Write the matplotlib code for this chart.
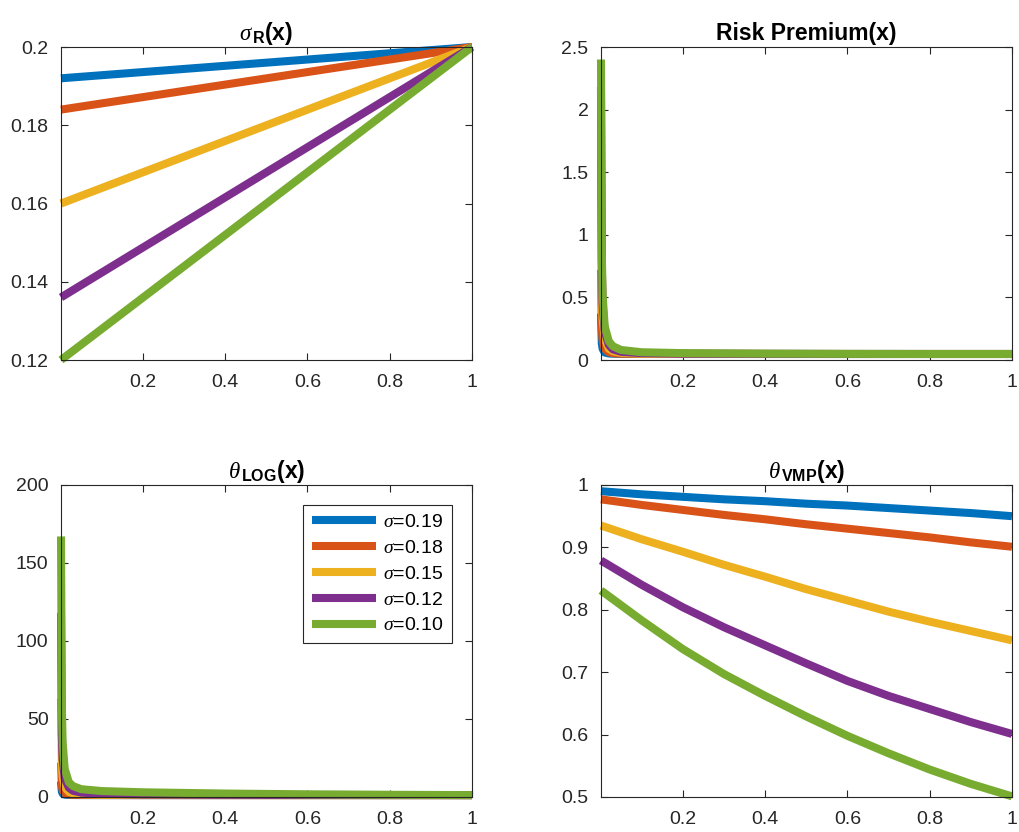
import numpy as np
import matplotlib
matplotlib.use('Agg')
import matplotlib.pyplot as plt

plt.rcParams['font.family'] = ['Liberation Sans', 'DejaVu Sans']
plt.rcParams['mathtext.fontset'] = 'custom'
plt.rcParams['mathtext.rm'] = 'Liberation Sans'
plt.rcParams['mathtext.it'] = 'Liberation Serif:italic'
plt.rcParams['mathtext.bf'] = 'Liberation Sans:bold'

# data
sigmas = ['0.19', '0.18', '0.15', '0.12', '0.10']
colors = ['#0072BD', '#D95319', '#EDB120', '#7E2F8E', '#77AC30']

# sigma_R(x): straight lines, start and end values
x_sr = [0.001, 1.0]
sr_blue = [0.192, 0.200]
sr_red = [0.184, 0.200]
sr_yellow = [0.160, 0.200]
sr_purple = [0.136, 0.200]
sr_green = [0.120, 0.200]

# spike curves (risk premium and theta_LOG) share the same x grid
x_sp = [0.001, 0.003, 0.005, 0.01, 0.02, 0.03, 0.05, 0.1, 0.2, 0.4, 0.6, 0.8, 1.0]
rp_blue = [0.37, 0.13, 0.09, 0.06, 0.052, 0.05, 0.049, 0.048, 0.048, 0.048, 0.048, 0.048, 0.048]
rp_red = [0.72, 0.25, 0.16, 0.09, 0.062, 0.055, 0.05, 0.049, 0.048, 0.048, 0.048, 0.048, 0.048]
rp_yellow = [1.6, 0.55, 0.33, 0.17, 0.09, 0.07, 0.057, 0.051, 0.049, 0.048, 0.048, 0.048, 0.048]
rp_purple = [2.18, 0.75, 0.45, 0.23, 0.12, 0.085, 0.065, 0.055, 0.05, 0.049, 0.048, 0.048, 0.048]
rp_green = [2.4, 0.85, 0.52, 0.27, 0.15, 0.11, 0.08, 0.062, 0.055, 0.051, 0.049, 0.048, 0.048]

th_blue = [10, 3.5, 2.2, 1.5, 1.3, 1.25, 1.2, 1.2, 1.2, 1.2, 1.2, 1.2, 1.2]
th_red = [22, 7.5, 4.5, 2.5, 1.6, 1.4, 1.3, 1.25, 1.2, 1.2, 1.2, 1.2, 1.2]
th_yellow = [63, 21, 13, 6.5, 3.3, 2.3, 1.7, 1.4, 1.3, 1.25, 1.2, 1.2, 1.2]
th_purple = [118, 40, 24, 12, 6, 4, 2.8, 2.0, 1.6, 1.4, 1.3, 1.25, 1.2]
th_green = [167, 58, 35, 18, 9.5, 7, 5, 3.8, 3.0, 2.2, 1.7, 1.4, 1.2]

# theta_VMP(x)
x_vmp = [0.001, 0.1, 0.2, 0.3, 0.4, 0.5, 0.6, 0.7, 0.8, 0.9, 1.0]
vmp_blue = [0.990, 0.985, 0.981, 0.977, 0.974, 0.970, 0.967, 0.963, 0.959, 0.955, 0.950]
vmp_red = [0.977, 0.968, 0.960, 0.952, 0.945, 0.937, 0.930, 0.923, 0.916, 0.908, 0.901]
vmp_yellow = [0.935, 0.913, 0.893, 0.872, 0.853, 0.833, 0.815, 0.797, 0.781, 0.766, 0.751]
vmp_purple = [0.879, 0.840, 0.804, 0.772, 0.743, 0.714, 0.686, 0.662, 0.641, 0.620, 0.601]
vmp_green = [0.831, 0.783, 0.737, 0.697, 0.662, 0.629, 0.598, 0.570, 0.544, 0.521, 0.501]

xticks = [0.2, 0.4, 0.6, 0.8, 1.0]
xticklabels = ['0.2', '0.4', '0.6', '0.8', '1']

ax_col = '#262626'
lw = 5.8


def style(ax, yticks, ylim):
    ax.set_xlim(0.001, 1)
    ax.set_ylim(ylim)
    ax.set_xticks(xticks)
    ax.set_xticklabels(xticklabels)
    ax.set_yticks(yticks)
    ax.set_yticklabels(['%g' % t for t in yticks])
    ax.tick_params(direction='in', top=True, right=True, length=5,
                   labelsize=14, colors=ax_col)
    ax.tick_params(axis='x', pad=10)
    ax.tick_params(axis='y', pad=9)
    for s in ax.spines.values():
        s.set_color(ax_col)
        s.set_linewidth(0.8)


fig = plt.figure(figsize=(10.2, 8.32), dpi=100)
ax1 = fig.add_axes([0.0598, 0.5673, 0.4029, 0.3762])
ax2 = fig.add_axes([0.5892, 0.5673, 0.4029, 0.3762])
ax3 = fig.add_axes([0.0598, 0.0421, 0.4029, 0.3750])
ax4 = fig.add_axes([0.5892, 0.0421, 0.4029, 0.3750])

sr = [sr_blue, sr_red, sr_yellow, sr_purple, sr_green]
rp = [rp_blue, rp_red, rp_yellow, rp_purple, rp_green]
th = [th_blue, th_red, th_yellow, th_purple, th_green]
vmp = [vmp_blue, vmp_red, vmp_yellow, vmp_purple, vmp_green]

kw = dict(lw=lw, clip_on=False, solid_joinstyle='round', solid_capstyle='butt')
for i in range(5):
    ax1.plot(x_sr, sr[i], color=colors[i], **kw)
    ax2.plot(x_sp, rp[i], color=colors[i], **kw)
    ax3.plot(x_sp, th[i], color=colors[i], label=r'$\sigma$=' + sigmas[i], **kw)
    ax4.plot(x_vmp, vmp[i], color=colors[i], **kw)

style(ax1, [0.12, 0.14, 0.16, 0.18, 0.2], (0.12, 0.2))
style(ax2, [0, 0.5, 1, 1.5, 2, 2.5], (0, 2.5))
style(ax3, [0, 50, 100, 150, 200], (0, 200))
style(ax4, [0.5, 0.6, 0.7, 0.8, 0.9, 1], (0.5, 1))

tkw = dict(fontsize=16.5, fontweight='bold', pad=5)
ax1.set_title(r'$\sigma_{\,\mathbf{R}}$(x)', **tkw)
ax2.set_title('Risk Premium(x)', **tkw)
ax3.set_title(r'$\theta_{\,\mathbf{LOG}}$(x)', **tkw)
ax4.set_title(r'$\theta_{\,\mathbf{VMP}}$(x)', **tkw)

leg = ax3.legend(loc='upper right', bbox_to_anchor=(0.951, 0.936), fontsize=14,
                 fancybox=False, framealpha=1, edgecolor=ax_col,
                 handlelength=3.3, borderpad=0.45, labelspacing=0.42,
                 handletextpad=0.35, borderaxespad=0)
leg.get_frame().set_linewidth(0.8)

fig.savefig('out.png', dpi=100)
